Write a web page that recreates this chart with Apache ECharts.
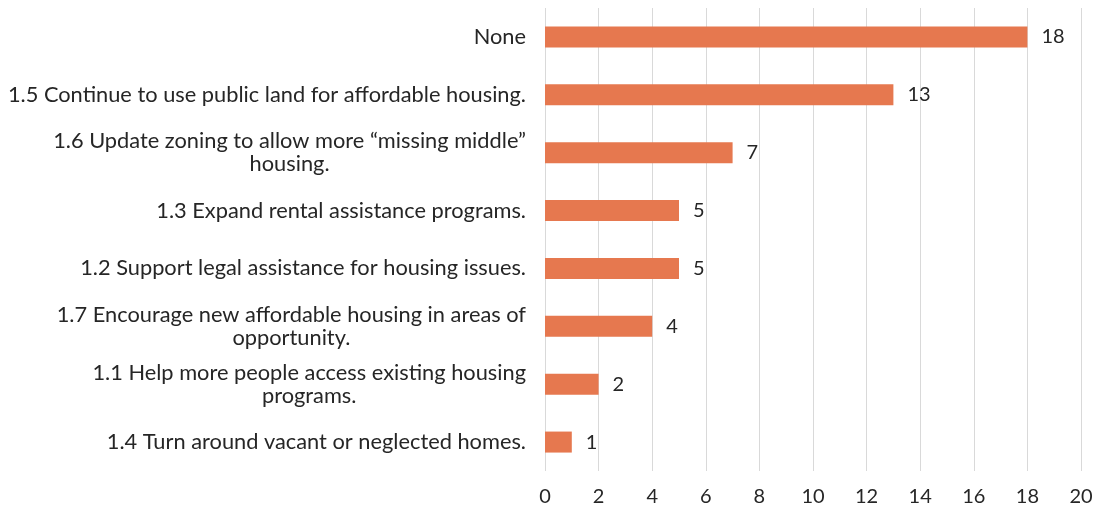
<!DOCTYPE html>
<html>
<head>
<meta charset="utf-8">
<script src="https://cdn.jsdelivr.net/npm/echarts@6/dist/echarts.min.js"></script>
<style>
  html, body { margin: 0; padding: 0; background: #fff; }
  #chart { width: 1100px; height: 510px; }
</style>
</head>
<body>
<div id="chart"></div>
<script>
// Survey responses per strategy (top to bottom)
const categories = [
  'None',
  '1.5 Continue to use public land for affordable housing.',
  '1.6 Update zoning to allow more \u201cmissing middle\u201d\nhousing.',
  '1.3 Expand rental assistance programs.',
  '1.2 Support legal assistance for housing issues.',
  '1.7 Encourage new affordable housing in areas of\nopportunity.',
  '1.1 Help more people access existing housing\nprograms.',
  '1.4 Turn around vacant or neglected homes.'
];
const counts = [18, 13, 7, 5, 5, 4, 2, 1];
const xTicks = [0, 2, 4, 6, 8, 10, 12, 14, 16, 18, 20];

const FONT = 'Lato, "Open Sans", sans-serif';
const TEXT = '#262626';

const chart = echarts.init(document.getElementById('chart'), null, { renderer: 'canvas' });
chart.setOption({
  animation: false,
  grid: { left: 545, right: 19, top: 8, bottom: 39, containLabel: false },
  xAxis: {
    type: 'value',
    min: xTicks[0],
    max: xTicks[xTicks.length - 1],
    interval: xTicks[1] - xTicks[0],
    axisLine: { show: false },
    axisTick: { show: false },
    axisLabel: { color: TEXT, fontSize: 20, fontFamily: FONT, margin: 16 },
    splitLine: { show: true, lineStyle: { color: '#D9D9D9', width: 1 } }
  },
  yAxis: {
    type: 'category',
    inverse: true,
    data: categories,
    axisLine: { show: false },
    axisTick: { show: false },
    axisLabel: {
      color: TEXT,
      fontSize: 21.8,
      fontFamily: FONT,
      margin: 19,
      align: 'right',
      formatter: function (v) {
        return v.split('\n').map(function (s) { return '{c|' + s + '}'; }).join('\n');
      },
      rich: {
        c: { align: 'center', color: TEXT, fontSize: 21.8, fontFamily: FONT, lineHeight: 23 }
      }
    }
  },
  series: [{
    type: 'bar',
    data: counts,
    barWidth: 21,
    itemStyle: { color: '#E6784F' },
    label: {
      show: true,
      position: 'right',
      distance: 14,
      color: TEXT,
      fontSize: 20,
      fontFamily: FONT
    }
  }]
});
</script>
</body>
</html>
